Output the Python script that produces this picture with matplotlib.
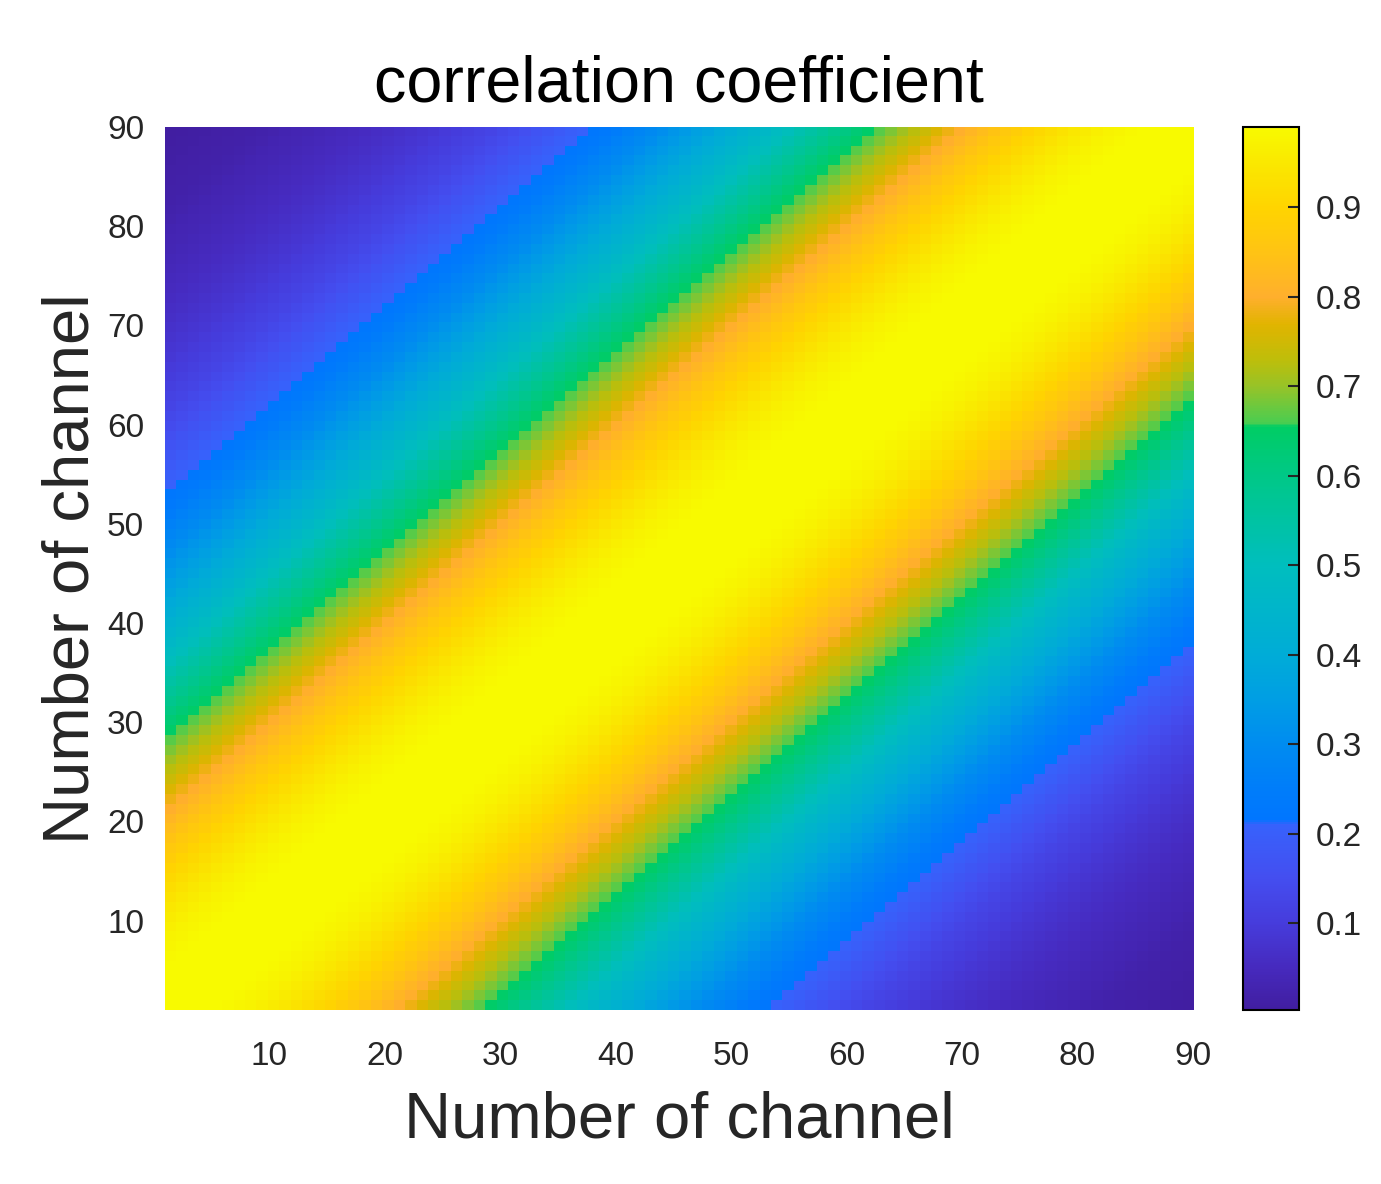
import numpy as np
import matplotlib
matplotlib.use('Agg')
import matplotlib.pyplot as plt
from matplotlib.colors import LinearSegmentedColormap

plt.rcParams['font.family'] = ['Liberation Sans', 'DejaVu Sans']

# correlation coefficient vs. channel distance |i-j|
lag_corr = [
    1.000, 0.999, 0.998, 0.995, 0.991, 0.986, 0.980, 0.973, 0.965, 0.956,
    0.946, 0.935, 0.923, 0.910, 0.897, 0.882, 0.867, 0.852, 0.835, 0.818,
    0.801, 0.783, 0.764, 0.745, 0.726, 0.707, 0.687, 0.667, 0.647, 0.627,
    0.607, 0.586, 0.566, 0.546, 0.526, 0.506, 0.487, 0.467, 0.448, 0.430,
    0.411, 0.393, 0.375, 0.358, 0.341, 0.325, 0.309, 0.293, 0.278, 0.264,
    0.249, 0.236, 0.223, 0.210, 0.198, 0.187, 0.176, 0.165, 0.155, 0.145,
    0.135, 0.126, 0.118, 0.110, 0.103, 0.096, 0.089, 0.083, 0.077, 0.071,
    0.066, 0.061, 0.056, 0.052, 0.048, 0.044, 0.040, 0.037, 0.034, 0.031,
    0.025, 0.022, 0.019, 0.017, 0.015, 0.013, 0.011, 0.009, 0.007, 0.005,
]
n_channel = len(lag_corr)
channels = np.arange(1, n_channel + 1)
x_ticks = [10, 20, 30, 40, 50, 60, 70, 80, 90]
y_ticks = [10, 20, 30, 40, 50, 60, 70, 80, 90]
cbar_ticks = [0.1, 0.2, 0.3, 0.4, 0.5, 0.6, 0.7, 0.8, 0.9]

# symmetric correlation matrix built from the lag profile
idx = np.abs(channels[:, None] - channels[None, :])
corr = np.array(lag_corr)[idx]

# colormap close to the one in the figure
vmin, vmax = 0.003, 0.99
anchors = [
    (0.003, (65, 30, 160)), (0.05, (70, 42, 190)), (0.10, (70, 60, 220)),
    (0.15, (68, 78, 240)), (0.21, (55, 98, 252)), (0.215, (0, 118, 255)),
    (0.25, (0, 125, 250)), (0.30, (0, 140, 240)), (0.35, (0, 158, 228)),
    (0.40, (0, 172, 215)), (0.50, (0, 190, 190)), (0.60, (0, 200, 135)),
    (0.655, (0, 205, 100)), (0.66, (75, 205, 80)), (0.70, (150, 195, 40)),
    (0.73, (190, 190, 10)), (0.77, (225, 180, 0)), (0.80, (255, 175, 45)),
    (0.85, (255, 195, 20)), (0.90, (255, 212, 0)), (0.95, (250, 232, 0)),
    (0.99, (248, 250, 0)),
]
cmap = LinearSegmentedColormap.from_list(
    'corrmap',
    [((v - vmin) / (vmax - vmin), tuple(c / 255 for c in rgb)) for v, rgb in anchors],
    N=512)

fig = plt.figure(figsize=(13.81, 11.84), dpi=100)
ax = fig.add_axes([0.1195, 0.147, 0.7444, 0.7458])
im = ax.imshow(corr, origin='lower', extent=(1, 90, 1, 90), aspect='auto',
               cmap=cmap, vmin=vmin, vmax=vmax, interpolation='nearest')
ax.set_xticks(x_ticks)
ax.set_yticks(y_ticks)
ax.tick_params(length=0, labelsize=24, colors='#262626', pad=15)
ax.tick_params(axis='x', pad=22)
for s in ax.spines.values():
    s.set_visible(False)
ax.set_title('correlation coefficient', fontsize=46.5, pad=18)
ax.set_xlabel('Number of channel', fontsize=47, color='#262626', labelpad=14)
ax.set_ylabel('Number of channel', fontsize=47, color='#262626', labelpad=4)

cax = fig.add_axes([0.9, 0.147, 0.0406, 0.7458])
cb = fig.colorbar(im, cax=cax, ticks=cbar_ticks)
cb.ax.tick_params(direction='in', length=8, width=1.5, labelsize=24,
                  colors='#262626', pad=12)
cb.outline.set_linewidth(1.5)
cb.ax.set_yticklabels([str(t) for t in cbar_ticks])

fig.savefig('out.png', dpi=100)
